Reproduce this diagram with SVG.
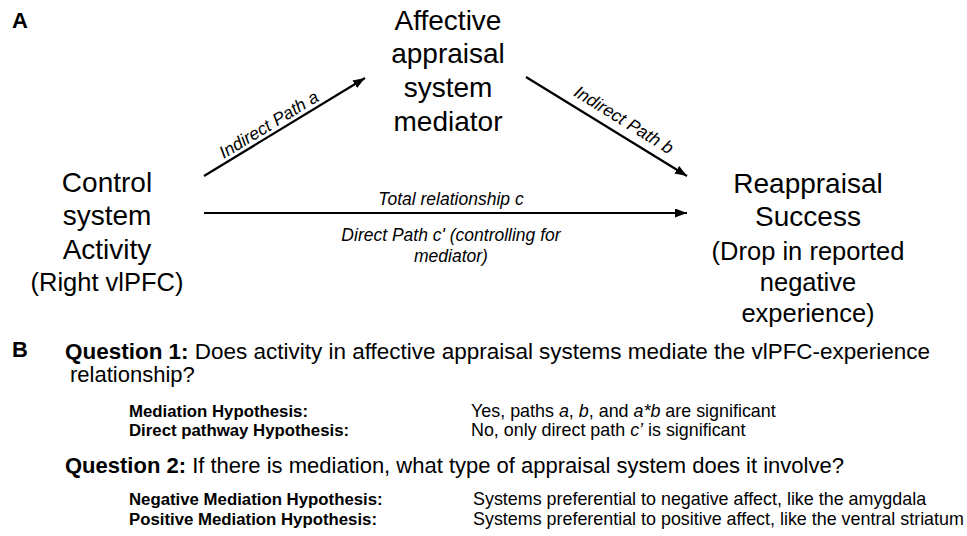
<svg xmlns="http://www.w3.org/2000/svg" width="967" height="536" viewBox="0 0 967 536">
<defs>
<marker id="ah" markerUnits="userSpaceOnUse" markerWidth="13" markerHeight="10" refX="12" refY="4.5" orient="auto">
<path d="M0,0 L12,4.5 L0,9 z" fill="#000"/>
</marker>
<style>
text{font-family:"Liberation Sans",Arial,sans-serif;fill:#000}
.node{font-size:28px;text-anchor:middle}
.sub{font-size:25.5px}
.lab{font-size:17.5px;font-style:italic;text-anchor:middle}
.panel{font-size:22px;font-weight:bold}
.q{font-size:22px}
.h{font-size:16.8px;font-weight:bold}
.r{font-size:17.9px}
.conn{stroke:#000;stroke-width:2.2;fill:none;marker-end:url(#ah)}
</style>
</defs>
<rect width="967" height="536" fill="#fff"/>
<text class="panel" x="12" y="28">A</text>
<g id="mediator">
<text class="node" x="448" y="30">Affective</text>
<text class="node" x="448" y="63">appraisal</text>
<text class="node" x="448" y="97">system</text>
<text class="node" x="448" y="131">mediator</text>
</g>
<g id="control">
<text class="node" x="107" y="192">Control</text>
<text class="node" x="107" y="225">system</text>
<text class="node" x="107" y="259">Activity</text>
<text class="node sub" x="107" y="291">(Right vlPFC)</text>
</g>
<g id="success">
<text class="node" x="808" y="193">Reappraisal</text>
<text class="node" x="808" y="226">Success</text>
<text class="node sub" x="808" y="260">(Drop in reported</text>
<text class="node sub" x="808" y="291">negative</text>
<text class="node sub" x="808" y="322">experience)</text>
</g>
<g id="connectors">
<line class="conn" x1="204" y1="176" x2="365" y2="78"/>
<line class="conn" x1="526" y1="77" x2="687" y2="176"/>
<line class="conn" x1="204" y1="213" x2="687" y2="213"/>
<text class="lab" transform="translate(274,133) rotate(-31.5)" y="-4">Indirect Path a</text>
<text class="lab" transform="translate(616,132.5) rotate(31.7)" y="-9">Indirect Path b</text>
<text class="lab" x="451" y="205">Total relationship c</text>
<text class="lab" x="451" y="241">Direct Path c' (controlling for</text>
<text class="lab" x="451" y="262">mediator)</text>
</g>
<g id="panelB">
<text class="panel" x="12" y="357">B</text>
<text class="q" x="65" y="359" textLength="865" lengthAdjust="spacingAndGlyphs"><tspan font-weight="bold">Question 1:</tspan> Does activity in affective appraisal systems mediate the vlPFC-experience</text>
<text class="q" x="70" y="382">relationship?</text>
<text class="h" x="129" y="417">Mediation Hypothesis:</text>
<text class="h" x="129" y="436">Direct pathway Hypothesis:</text>
<text class="r" x="471" y="417">Yes, paths <tspan font-style="italic">a</tspan>, <tspan font-style="italic">b</tspan>, and <tspan font-style="italic">a*b</tspan> are significant</text>
<text class="r" x="471" y="436">No, only direct path <tspan font-style="italic">c’</tspan> is significant</text>
<text class="q" x="65" y="473"><tspan font-weight="bold">Question 2:</tspan> If there is mediation, what type of appraisal system does it involve?</text>
<text class="h" x="129" y="505">Negative Mediation Hypothesis:</text>
<text class="h" x="129" y="525">Positive Mediation Hypothesis:</text>
<text class="r" x="473" y="505">Systems preferential to negative affect, like the amygdala</text>
<text class="r" x="473" y="525">Systems preferential to positive affect, like the ventral striatum</text>
</g>
</svg>
